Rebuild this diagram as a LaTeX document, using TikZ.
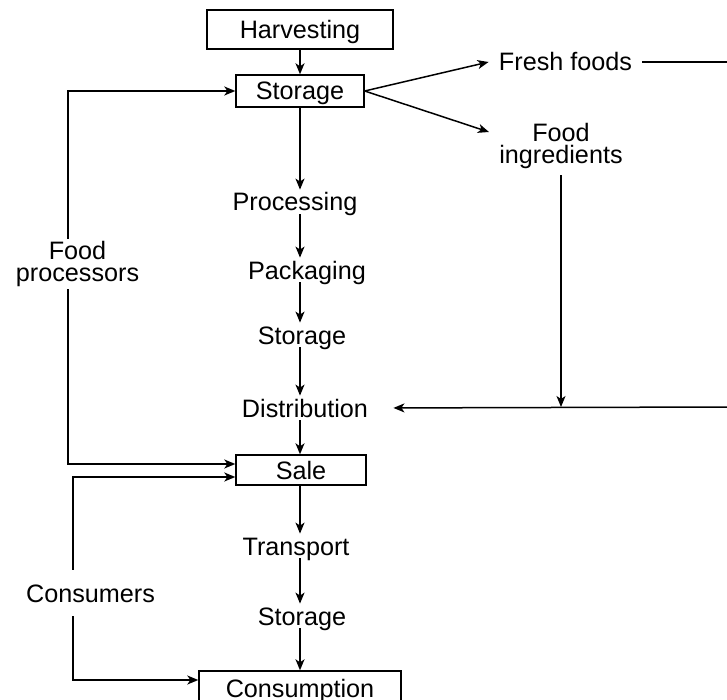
\documentclass[tikz,border=0pt]{standalone}
\usepackage{fontspec}
\setmainfont{Liberation Sans}
\usetikzlibrary{arrows.meta,calc}

\begin{document}
\begin{tikzpicture}[
    x=0.5pt, y=-0.5pt,
    >={Stealth[length=5.5pt,width=4.5pt,inset=1.5pt]},
    font=\fontsize{12.6}{11.2}\selectfont,
    box/.style={draw, line width=0.7pt, inner sep=0pt, text height=9pt, text depth=0pt},
    stage/.style={inner xsep=2pt, inner ysep=1.5pt, text height=9pt, text depth=0pt},
    group/.style={align=center, inner xsep=2pt, inner ysep=1pt},
    flow/.style={->, line width=0.75pt}
]

% Frame of the picture
\clip (0,0) rectangle (727,700);

% Axis of the main chain and loose ends
\coordinate (axis)   at (300,0);
\coordinate (fpline) at (68,0);
\coordinate (csline) at (73,0);
\coordinate (ffEnd)  at (727,62);
\coordinate (dsEnd)  at (727,407);

% Boxes
\node[box, minimum width=93pt, minimum height=19.5pt] (harv) at (300,29.5) {Harvesting};
\node[box, minimum width=64pt, minimum height=16pt] (stor1) at (300,91) {Storage};
\node[box, minimum width=65pt, minimum height=15pt] (sale) at (301,470) {Sale};
\node[box, minimum width=101pt, minimum height=17pt] (consum) at (300,688) {Consumption};

% Stages of the chain
\node[stage] (proc)  at (295,202) {Processing};
\node[stage] (pack)  at (307,270) {Packaging};
\node[stage] (stor2) at (302,335) {Storage};
\node[stage] (dist)  at (305,408) {Distribution};
\node[stage] (trans) at (296,546) {Transport};
\node[stage] (stor3) at (302,616) {Storage};

% Side labels
\node[stage, inner xsep=5pt] (fresh) at (565.5,62) {Fresh foods};
\node[group, inner xsep=5pt, inner ysep=3pt] (ingr) at (561,146) {Food\\ingredients};
\node[group] (fp) at (77.5,264) {Food\\processors};
\node[stage, inner ysep=7pt] (cons) at (90.5,593) {Consumers};

% Main chain
\draw[flow] (harv.south) -- (stor1.north);
\draw[flow] (stor1.south) -- (proc.north -| axis);
\draw[flow] (proc.south -| axis) -- (pack.north -| axis);
\draw[flow] (pack.south -| axis) -- (stor2.north -| axis);
\draw[flow] (stor2.south -| axis) -- (dist.north -| axis);
\draw[flow] (dist.south -| axis) -- (sale.north -| axis);
\draw[flow] (sale.south -| axis) -- (trans.north -| axis);
\draw[flow] (trans.south -| axis) -- (stor3.north -| axis);
\draw[flow] (stor3.south -| axis) -- (consum.north -| axis);

% Branches from storage
\draw[flow] (stor1.east) -- (fresh.west);
\draw[flow] (stor1.east) -- ([yshift=7pt]ingr.west);
\draw[line width=0.75pt] (fresh.east) -- (ffEnd);
\draw[flow] (ingr.south) -- (ingr.south |- dsEnd);
\draw[flow, shorten >=10.5pt] (dsEnd) -- (dist.east);

% Food processors loop
\draw[flow] (fp.north -| fpline) |- (stor1.west);
\draw[flow] (fp.south -| fpline) |- ([yshift=3pt]sale.west);

% Consumers loop
\draw[flow] (cons.north -| csline) |- ([yshift=-3.5pt]sale.west);
\draw[flow] (cons.south -| csline) |- ([yshift=4pt]consum.west);

\end{tikzpicture}
\end{document}
